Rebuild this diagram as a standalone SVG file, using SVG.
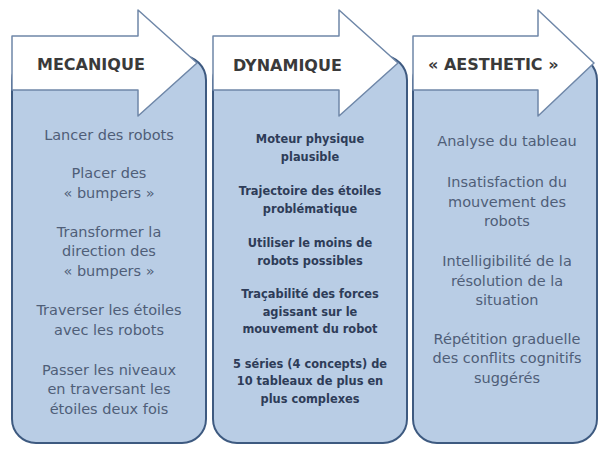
<svg xmlns="http://www.w3.org/2000/svg" width="598" height="450" viewBox="0 0 598 450">
<style>
.box{fill:#b9cde5;stroke:#3e5a80;stroke-width:2}
.arrow{fill:#ffffff;stroke:#6f87a8;stroke-width:1.5;stroke-linejoin:round}
.hdr{font-family:"DejaVu Sans",sans-serif;font-weight:bold;font-size:16px;fill:#3a3a3a}
.t{font-family:"DejaVu Sans",sans-serif;font-size:14.5px;fill:#4f5e78;text-anchor:middle}
.tb{font-family:"DejaVu Sans",sans-serif;font-weight:bold;font-size:11.4px;fill:#2e3c58;text-anchor:middle}
</style>
<rect width="598" height="450" fill="#ffffff"/>
<g id="mecanique">
<rect class="box" x="12" y="56" width="194" height="387" rx="24"/>
<polygon class="arrow" points="12,36 138,36 138,10 197,63 138,116 138,90 12,90"/>
<text class="hdr" x="37" y="70">MECANIQUE</text>
<text class="t" x="109" y="139.5">Lancer des robots</text>
<text class="t" x="109" y="178">Placer des</text>
<text class="t" x="109" y="197.5">« bumpers »</text>
<text class="t" x="109" y="237">Transformer la</text>
<text class="t" x="109" y="256">direction des</text>
<text class="t" x="109" y="275.5">« bumpers »</text>
<text class="t" x="109" y="315">Traverser les étoiles</text>
<text class="t" x="109" y="334.5">avec les robots</text>
<text class="t" x="109" y="374.5">Passer les niveaux</text>
<text class="t" x="109" y="394">en traversant les</text>
<text class="t" x="109" y="413.5">étoiles deux fois</text>
</g>
<g id="dynamique">
<rect class="box" x="213" y="56" width="194" height="387" rx="24"/>
<polygon class="arrow" points="213,36 339,36 339,10 398,63 339,116 339,90 213,90"/>
<text class="hdr" x="233" y="71">DYNAMIQUE</text>
<text class="tb" x="310" y="143">Moteur physique</text>
<text class="tb" x="310" y="160.5">plausible</text>
<text class="tb" x="310" y="195">Trajectoire des étoiles</text>
<text class="tb" x="310" y="212.5">problématique</text>
<text class="tb" x="310" y="247">Utiliser le moins de</text>
<text class="tb" x="310" y="264.5">robots possibles</text>
<text class="tb" x="310" y="298">Traçabilité des forces</text>
<text class="tb" x="310" y="315.5">agissant sur le</text>
<text class="tb" x="310" y="333">mouvement du robot</text>
<text class="tb" x="310" y="367.5">5 séries (4 concepts) de</text>
<text class="tb" x="310" y="385">10 tableaux de plus en</text>
<text class="tb" x="310" y="402.5">plus complexes</text>
</g>
<g id="aesthetic">
<rect class="box" x="413" y="56" width="184" height="387" rx="24"/>
<polygon class="arrow" points="413,36 538,36 538,10 594,63 538,116 538,90 413,90"/>
<text class="hdr" x="428" y="70">« AESTHETIC »</text>
<text class="t" x="507" y="146">Analyse du tableau</text>
<text class="t" x="507" y="187">Insatisfaction du</text>
<text class="t" x="507" y="206.5">mouvement des</text>
<text class="t" x="507" y="226">robots</text>
<text class="t" x="507" y="266">Intelligibilité de la</text>
<text class="t" x="507" y="285.5">résolution de la</text>
<text class="t" x="507" y="305">situation</text>
<text class="t" x="507" y="343.5">Répétition graduelle</text>
<text class="t" x="507" y="363">des conflits cognitifs</text>
<text class="t" x="507" y="382.5">suggérés</text>
</g>
<g id="connectors"></g>
</svg>
